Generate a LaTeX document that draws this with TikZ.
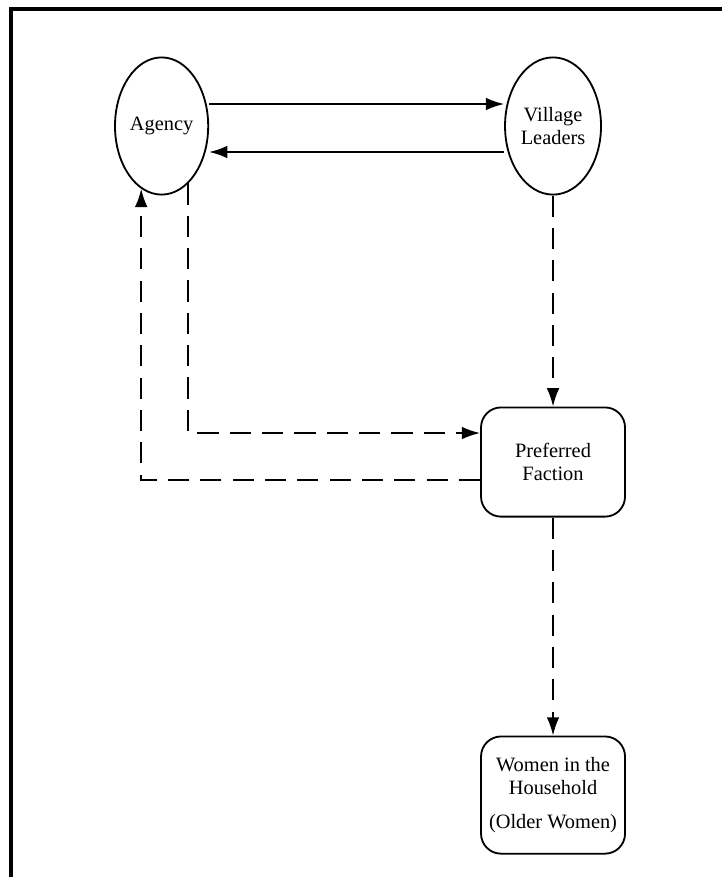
\documentclass[tikz,border=0pt]{standalone}
\usepackage{fontspec}
\setmainfont{Liberation Serif}
\usetikzlibrary{shapes,arrows.meta,positioning,calc}

\begin{document}
\begin{tikzpicture}[
        node distance=2cm,
        font=\fontsize{14.5}{16.5}\selectfont,
        actor/.style={draw, ellipse, fill=white, minimum width=2.33cm, minimum height=3.43cm, inner sep=0pt, align=center, line width=1.3pt},
        group/.style={draw, rectangle, rounded corners=0.5cm, fill=white, minimum width=3.6cm, minimum height=2.73cm, inner sep=2pt, align=center, line width=1.3pt},
        line/.style={draw, -{Latex[length=13pt,width=9pt]}, line width=1.3pt},
        dline/.style={line, dash pattern=on 15pt off 8pt}
    ]
    \useasboundingbox (0,0) rectangle (18.05,-21.925);

    % Frame (top and left only)
    \draw [line width=2.5pt] (0.28,-21.925) -- (0.28,-0.22) -- (18.05,-0.22);

    % Top row
    \node [actor] (agency) at (4.04,-3.15) {Agency};
    \node [actor, minimum width=2.4cm, right=7.375cm of agency] (leaders) {Village\\Leaders};

    % Right column
    \node [group, below=5.275cm of leaders] (faction) {Preferred\\Faction};
    \node [group, minimum height=2.93cm, below=5.45cm of faction] (women) {Women in the\\Household\\[0.25cm](Older Women)};

    % Connections - Agency and leaders
    \path [line] ($(agency.east)+(0,0.55)$) -- ($(leaders.west)+(0,0.55)$);
    \path [line] ($(leaders.west)+(0,-0.65)$) -- ($(agency.east)+(0,-0.65)$);

    % Connections - Dashed flow
    \path [dline] (leaders.south) -- (faction.north);
    \path [dline] (agency.-65) |- ($(faction.west)+(0,0.725)$);
    \path [dline] ($(faction.west)+(0,-0.45)$) -| (agency.-108);
    \path [dline] (faction.south) -- (women.north);

\end{tikzpicture}
\end{document}
